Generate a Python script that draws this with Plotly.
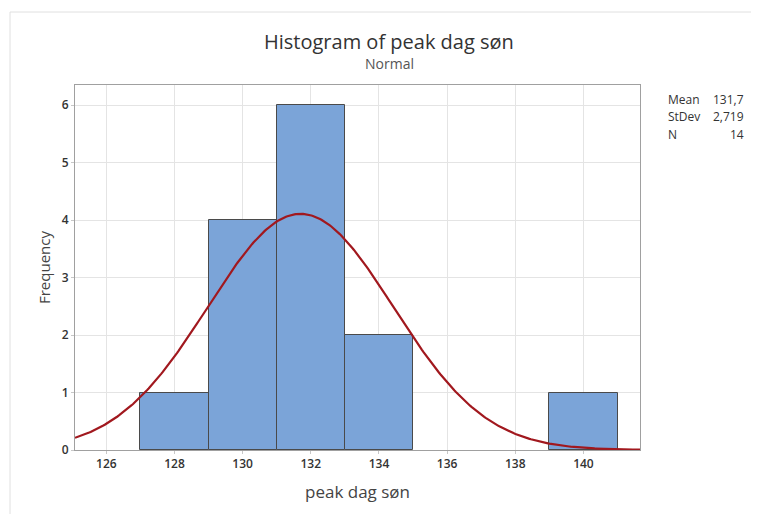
import numpy as np
import plotly.graph_objects as go

# Data
bin_left = [127, 129, 131, 133, 139]
bin_counts = [1, 4, 6, 2, 1]
bin_width = 2
mean_val = 131.7
stdev_val = 2.719
n_val = 14
x_ticks = [126, 128, 130, 132, 134, 136, 138, 140]
y_ticks = [0, 1, 2, 3, 4, 5, 6]
stat_labels = ["Mean", "StDev", "N"]
stat_values = ["131,7", "2,719", "14"]

x_range = [125.08, 141.66]
y_range = [0, 6.35]

centers = [b + bin_width / 2 for b in bin_left]

xs = np.linspace(x_range[0], x_range[1], 400)
ys = n_val * bin_width * np.exp(-0.5 * ((xs - mean_val) / stdev_val) ** 2) / (stdev_val * np.sqrt(2 * np.pi))

# page body has an 8px margin; work in screen pixels and convert
OFF = 8
W, H = 751, 506
L, R, T, B = 67, 119, 77, 64
PW = W - L - R
PH = H - T - B


def px(x):
    return (x - OFF - L) / PW


def py(y):
    return 1 - (y - OFF - T) / PH


fig = go.Figure()
fig.add_trace(go.Bar(
    x=centers, y=bin_counts, width=[bin_width] * len(centers),
    marker=dict(color="#7BA4D8", line=dict(color="#4A4A4A", width=1)),
    hoverinfo="x+y", showlegend=False,
))
fig.add_trace(go.Scatter(
    x=xs, y=ys, mode="lines", line=dict(color="#A1181E", width=2.2),
    showlegend=False, hoverinfo="skip",
))

font_family = "Open Sans, Noto Sans, sans-serif"
fig.update_layout(
    width=W, height=H,
    margin=dict(l=L, r=R, t=T, b=B),
    paper_bgcolor="white", plot_bgcolor="white",
    bargap=0,
    font=dict(family=font_family, color="#333333"),
    xaxis=dict(
        range=x_range, tickvals=x_ticks, ticktext=[str(t) for t in x_ticks],
        showgrid=True, gridcolor="#E4E4E4", gridwidth=1,
        showline=True, linecolor="#A0A0A0", linewidth=1, mirror=True,
        ticks="outside", ticklen=3, tickcolor="#C8C8C8",
        tickfont=dict(size=12, color="#333333", weight=600),
        title=dict(text="peak dag søn", font=dict(size=17, color="#444444"), standoff=14),
        zeroline=False,
    ),
    yaxis=dict(
        range=y_range, tickvals=y_ticks,
        showgrid=True, gridcolor="#E4E4E4", gridwidth=1,
        showline=True, linecolor="#A0A0A0", linewidth=1, mirror=True,
        ticks="outside", ticklen=3, tickcolor="#C8C8C8",
        tickfont=dict(size=12, color="#333333", weight=600),
        title=dict(text="Frequency", font=dict(size=15, color="#444444"), standoff=7),
        zeroline=False,
    ),
)

fig.add_annotation(xref="paper", yref="paper", x=px(389), y=py(42),
                   text="Histogram of peak dag søn", showarrow=False,
                   xanchor="center", yanchor="middle",
                   font=dict(size=20, color="#333333", family=font_family))
fig.add_annotation(xref="paper", yref="paper", x=px(389), y=py(63),
                   text="Normal", showarrow=False,
                   xanchor="center", yanchor="middle",
                   font=dict(size=14, color="#555555", family=font_family))

for i, (lab, val) in enumerate(zip(stat_labels, stat_values)):
    yy = 100 + i * 17
    fig.add_annotation(xref="paper", yref="paper", x=px(666), y=py(yy),
                       text=lab, showarrow=False, xanchor="left", yanchor="middle",
                       font=dict(size=12, color="#333333", family=font_family))
    fig.add_annotation(xref="paper", yref="paper", x=px(746), y=py(yy),
                       text=val, showarrow=False, xanchor="right", yanchor="middle",
                       font=dict(size=12, color="#333333", family=font_family))

# faint window border lines
fig.add_shape(type="line", xref="paper", yref="paper", x0=px(10), x1=px(759),
              y0=py(12), y1=py(12), line=dict(color="#E0E0E0", width=1))
fig.add_shape(type="line", xref="paper", yref="paper", x0=px(10), x1=px(10),
              y0=py(12), y1=py(514), line=dict(color="#E0E0E0", width=1))

fig.write_html("out.html")
